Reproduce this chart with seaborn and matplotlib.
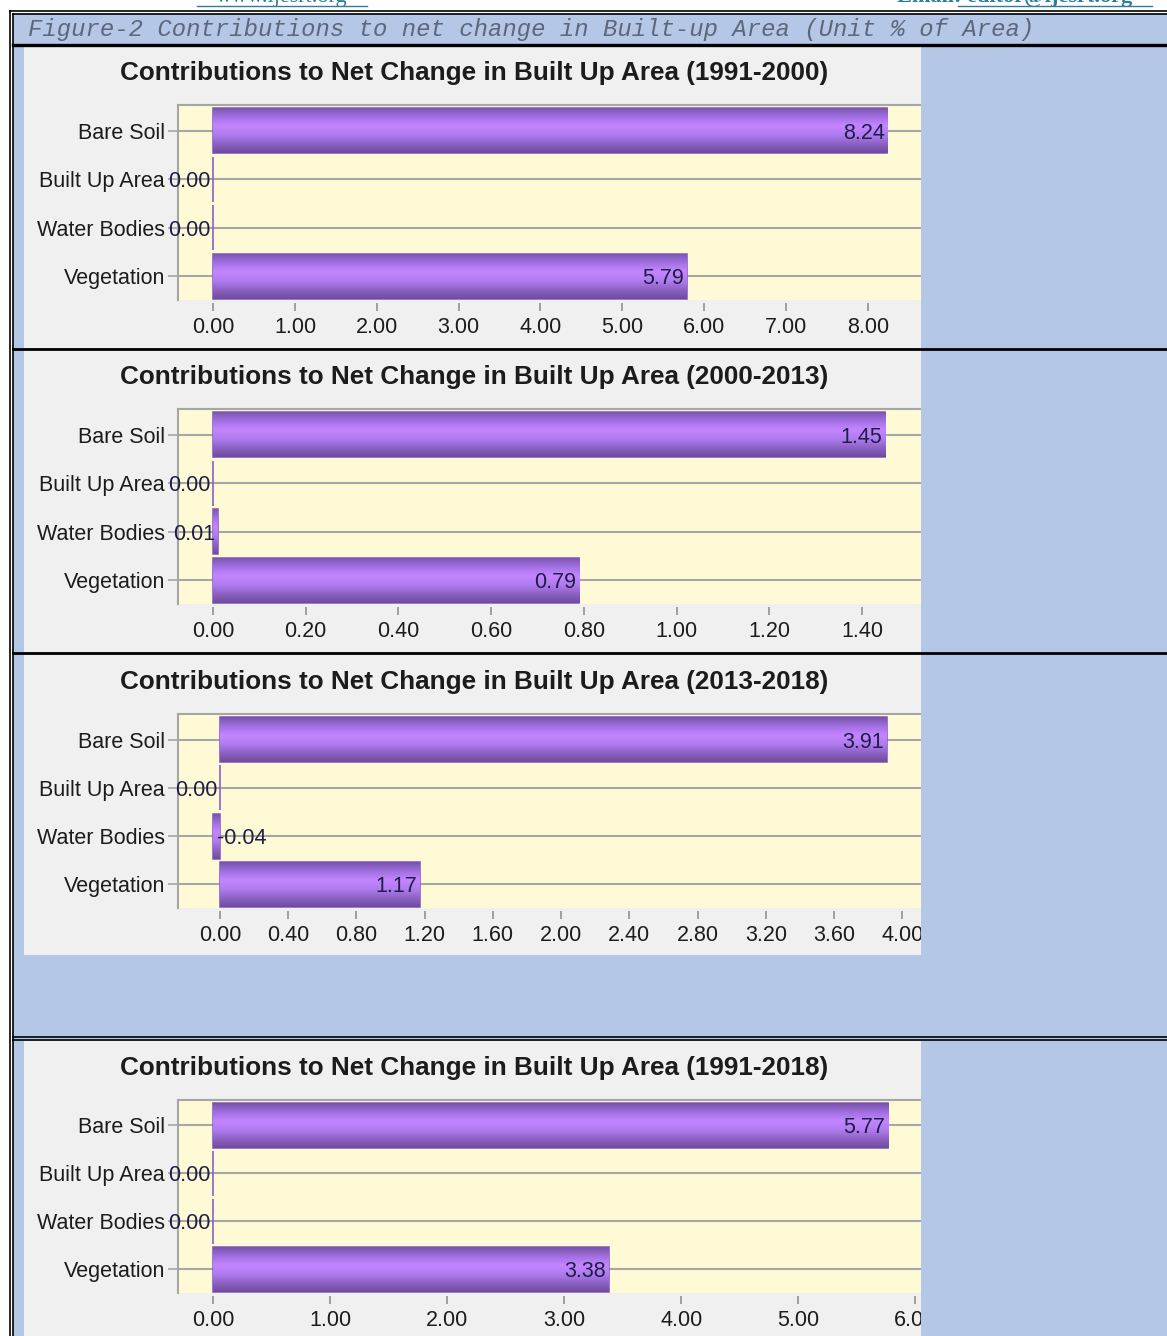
import matplotlib
matplotlib.use("Agg")
import matplotlib.pyplot as plt
from matplotlib.patches import Rectangle
from matplotlib.lines import Line2D
from matplotlib.colors import LinearSegmentedColormap
import seaborn as sns
import numpy as np

# data
categories = ['Bare Soil', 'Built Up Area', 'Water Bodies', 'Vegetation']
periods = ['1991-2000', '2000-2013', '2013-2018', '1991-2018']
vals_1991_2000 = [8.24, 0.00, 0.00, 5.79]
vals_2000_2013 = [1.45, 0.00, 0.01, 0.79]
vals_2013_2018 = [3.91, 0.00, -0.04, 1.17]
vals_1991_2018 = [5.77, 0.00, 0.00, 3.38]
ticks_1991_2000 = [0, 1, 2, 3, 4, 5, 6, 7, 8]
ticks_2000_2013 = [0, 0.2, 0.4, 0.6, 0.8, 1.0, 1.2, 1.4]
ticks_2013_2018 = [0, 0.4, 0.8, 1.2, 1.6, 2.0, 2.4, 2.8, 3.2, 3.6, 4.0]
ticks_1991_2018 = [0, 1, 2, 3, 4, 5, 6]
header = 'Figure-2 Contributions to net change in Built-up Area (Unit % of Area)'

W, H = 1167, 1336
BLUE = '#b4c7e7'
PANEL = '#f0f0f0'
PLOT = '#fffad6'
GRID = '#a6a6a6'
TXT = '#1c1c1c'
FS = 15.5

plt.rcParams['font.family'] = ['Liberation Sans', 'DejaVu Sans']

bar_cmap = LinearSegmentedColormap.from_list(
    'barfill', ['#7a53ab', '#a070e2', '#c485ff', '#b07cf0', '#8f62c6', '#704c9c'])
grad = np.linspace(0, 1, 64).reshape(-1, 1)


def fx(x):
    return x / W


def fy(y):
    return 1 - y / H


def fig_rect(fig, x0, y0, x1, y1, color, z):
    fig.add_artist(Rectangle((fx(x0), fy(y1)), fx(x1) - fx(x0), fy(y0) - fy(y1),
                             transform=fig.transFigure, facecolor=color,
                             edgecolor='none', zorder=z))


def hline(fig, y, lw, x0=12.5, x1=W):
    fig.add_artist(Line2D([fx(x0), fx(x1)], [fy(y), fy(y)], transform=fig.transFigure,
                          color='black', lw=lw, zorder=20))


def draw_panel(fig, vals, ticks, xlim, period, ptop, pbot, atop, abot):
    fig_rect(fig, 24, ptop, 921, pbot, PANEL, -2)
    fig.text(fx(474), fy(atop - 32), 'Contributions to Net Change in Built Up Area (' + period + ')',
             ha='center', va='center', fontsize=18.8, fontweight='bold', color=TXT)

    ax = fig.add_axes([fx(178), fy(abot), fx(921) - fx(178), fy(atop) - fy(abot)])
    ax.set_facecolor(PLOT)
    sns.barplot(x=vals, y=categories, orient='h', color='#a070e0', width=0.93,
                edgecolor='#8d5fc8', linewidth=1.2, ax=ax)

    # vertical shading of the bars
    for p in ax.patches:
        x0, w = p.get_x(), p.get_width()
        y0, h = p.get_y(), p.get_height()
        if abs(w) < 1e-9:
            continue
        im = ax.imshow(grad, extent=[min(x0, x0 + w), max(x0, x0 + w), y0 + h, y0],
                       aspect='auto', cmap=bar_cmap, zorder=p.get_zorder() + 0.1,
                       interpolation='bilinear')
        im.set_clip_path(p)

    for i, v in enumerate(vals):
        if v < 0:
            ax.annotate('%.2f' % v, (v, i), xytext=(3, 0), textcoords='offset points',
                        ha='left', va='center_baseline', fontsize=FS, color='#1e1e46', zorder=10)
        else:
            ax.annotate('%.2f' % v, (v, i), xytext=(-2, 0), textcoords='offset points',
                        ha='right', va='center_baseline', fontsize=FS, color='#1e1e46', zorder=10)

    ax.set_xlim(*xlim)
    ax.set_ylim(3.49, -0.53)
    ax.set_xticks(ticks)
    ax.set_xticklabels(['%.2f' % t for t in ticks])
    ax.set_xlabel('')
    ax.set_ylabel('')
    ax.grid(axis='y', color=GRID, lw=1.5)
    ax.grid(axis='x', visible=False)
    ax.set_axisbelow(True)
    for s in ['right', 'bottom']:
        ax.spines[s].set_visible(False)
    for s in ['left', 'top']:
        ax.spines[s].set_color(GRID)
        ax.spines[s].set_linewidth(1.5)
    ax.spines['bottom'].set_position(('outward', 2))
    ax.tick_params(axis='y', length=7.5, width=1.2, color=GRID, pad=2,
                   labelsize=FS, labelcolor=TXT)
    ax.tick_params(axis='x', length=5.5, width=1.2, color='#909090', pad=5,
                   labelsize=FS, labelcolor=TXT)
    return ax


fig = plt.figure(figsize=(W / 100, H / 100), dpi=100, facecolor='white')

# page frame
fig_rect(fig, 12.5, 12.5, W, H, BLUE, -3)
fig.add_artist(Line2D([fx(9.5), fx(9.5)], [fy(11), 0], transform=fig.transFigure, color='black', lw=1.2, zorder=20))
fig.add_artist(Line2D([fx(12.5), fx(12.5)], [fy(14), 0], transform=fig.transFigure, color='black', lw=1.2, zorder=20))
hline(fig, 11, 1.2, x0=9.5)
hline(fig, 14, 1.2)

# page header links, cut off at the top edge as in the scan
fig.text(fx(282), fy(2), 'www.ijesrt.org', ha='center', va='baseline', fontsize=16,
         family='Liberation Serif', color='#2e7d9a')
fig.add_artist(Line2D([fx(197), fx(367)], [fy(6), fy(6)], transform=fig.transFigure, color='#2e7d9a', lw=1))
fig.text(fx(1015), fy(2), 'Email: editor@ijesrt.org', ha='center', va='baseline', fontsize=16,
         family='Liberation Serif', fontweight='bold', color='#2e7d9a')
fig.add_artist(Line2D([fx(958), fx(1152)], [fy(6), fy(6)], transform=fig.transFigure, color='#2e7d9a', lw=1))

fig.text(fx(28), fy(29.5), header, ha='left', va='center', fontsize=17.2, style='italic',
         family='Liberation Mono', color='#5d6779')

draw_panel(fig, vals_1991_2000, ticks_1991_2000, (-0.43, 8.65), periods[0], 46.5, 347.5, 105, 300)
draw_panel(fig, vals_2000_2013, ticks_2000_2013, (-0.0755, 1.527), periods[1], 350.5, 651.5, 409, 604)
draw_panel(fig, vals_2013_2018, ticks_2013_2018, (-0.246, 4.11), periods[2], 654.5, 955, 714, 908)
draw_panel(fig, vals_1991_2018, ticks_1991_2018, (-0.30, 6.05), periods[3], 1041, H, 1100, 1293)

# right side of the page is cut off
fig_rect(fig, 921, 46, W, H, BLUE, 15)

hline(fig, 44.5, 2.4)
hline(fig, 349, 2.0)
hline(fig, 653, 2.0)
hline(fig, 1036.5, 1.2)
hline(fig, 1039.5, 1.2)

fig.savefig('out.png', dpi=100, facecolor=fig.get_facecolor())
